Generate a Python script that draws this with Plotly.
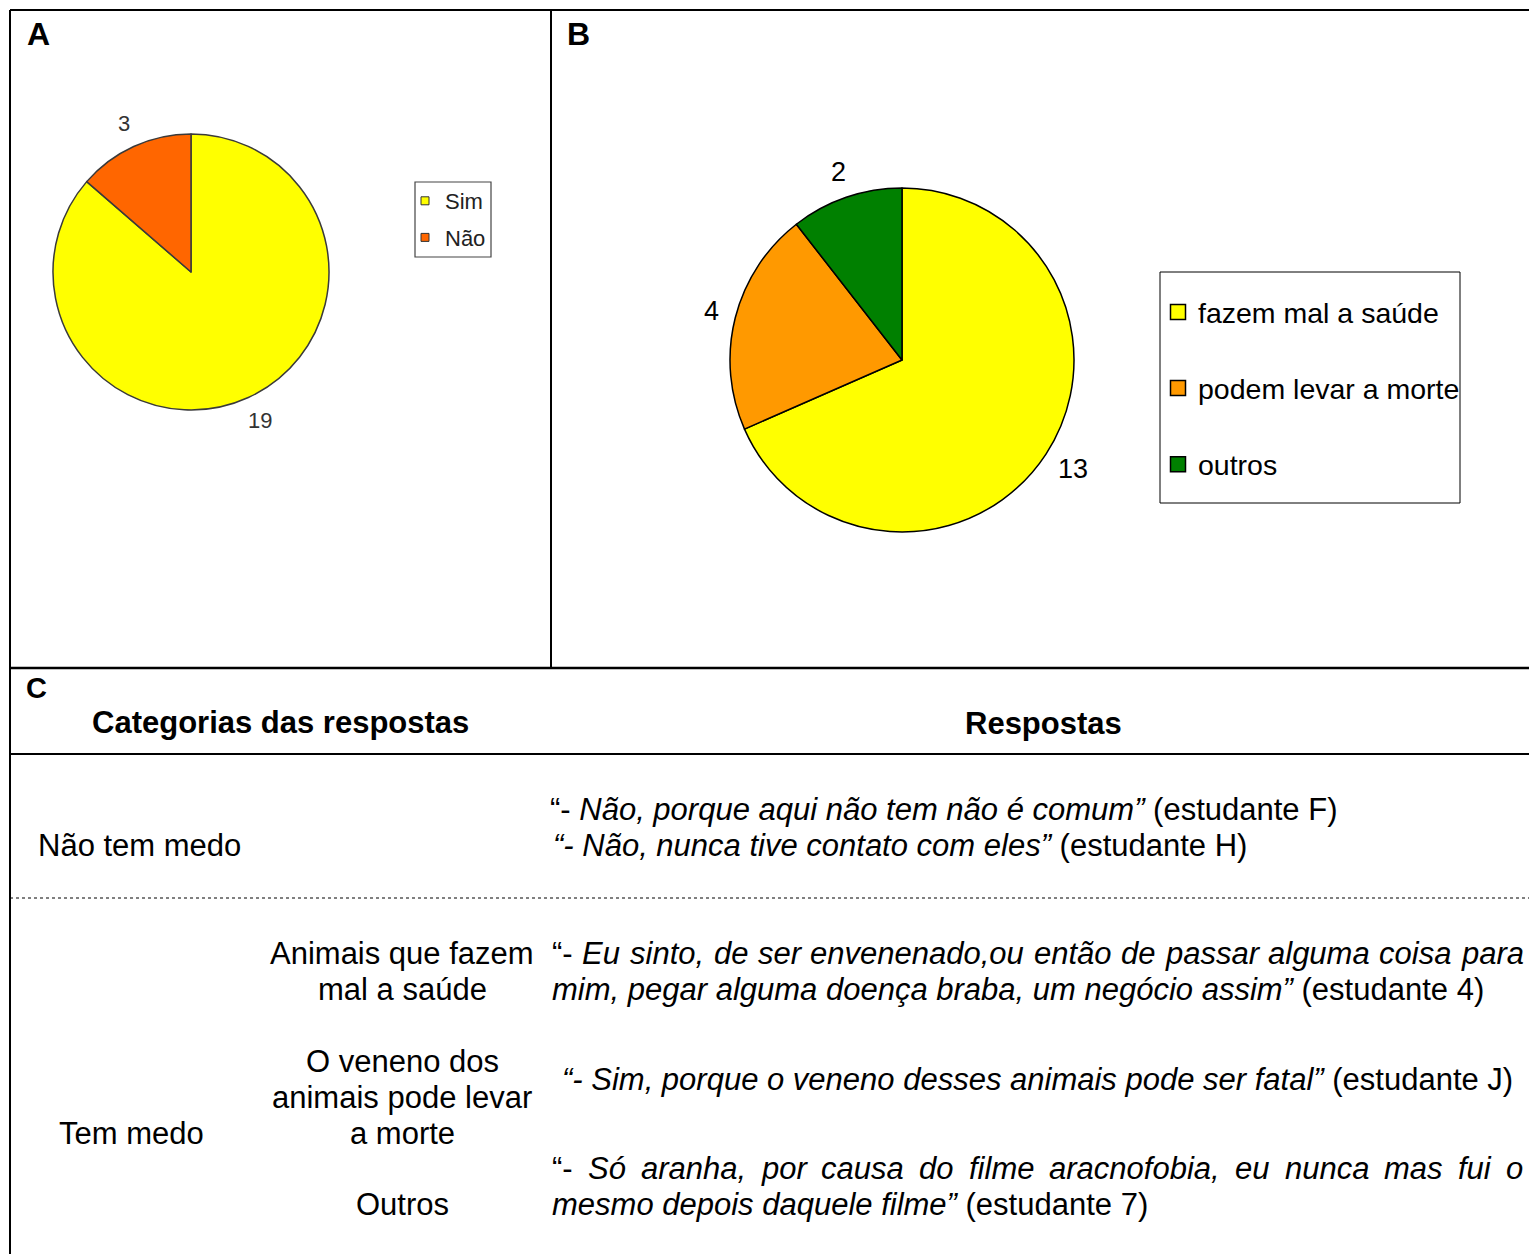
import math
import plotly.graph_objects as go

W, H = 1529, 1254
FONT = "Liberation Sans, Arial, sans-serif"

# ---- Panel A: tem medo? ----
a_labels = ["Sim", "Não"]
a_values = [19, 3]
a_colors = ["#FFFF00", "#FF6600"]

# ---- Panel B: por que tem medo ----
b_labels = ["fazem mal a saúde", "podem levar a morte", "outros"]
b_values = [13, 4, 2]
b_colors = ["#FFFF00", "#FF9900", "#008000"]

# ---- Panel C: table ----
header_left = "Categorias das respostas"
header_right = "Respostas"
cat_no = "Não tem medo"
cat_yes = "Tem medo"
sub_health = ["Animais que fazem", "mal a saúde"]
sub_death = ["O veneno dos", "animais pode levar", "a morte"]
sub_other = ["Outros"]
quote_f = "“- <i>Não, porque aqui não tem não é comum”</i> (estudante F)"
quote_h = "<i>“- Não, nunca tive contato com eles”</i> (estudante H)"
quote_4a = "“- Eu sinto, de ser envenenado,ou então de passar alguma coisa para"
quote_4b = "<i>mim, pegar alguma doença braba, um negócio assim”</i> (estudante 4)"
quote_j = "<i>“- Sim, porque o veneno desses animais pode ser fatal”</i> (estudante J)"
quote_7a = "“- Só aranha, por causa do filme aracnofobia, eu nunca mas fui o"
quote_7b = "<i>mesmo depois daquele filme”</i> (estudante 7)"

# Arial / Liberation Sans advance widths (per 1000 em)
ADV = {" ": 278, ",": 278, "-": 333, ".": 278, "“": 333, "”": 333, "(": 333, ")": 333,
       "E": 667, "S": 667, "a": 556, "b": 556, "c": 500, "d": 556, "e": 556, "f": 278,
       "g": 556, "h": 556, "i": 222, "l": 222, "m": 833, "n": 556, "o": 556, "p": 556,
       "r": 333, "s": 500, "t": 278, "u": 556, "v": 500, "ã": 556, "ó": 556}


def text_width(s, size):
    return sum(ADV.get(ch, 556) for ch in s) / 1000.0 * size


def px(x):
    return x / W


def py(y):
    return 1 - y / H


fig = go.Figure()

# hidden pixel-space axes for rules and table text
fig.update_layout(
    xaxis=dict(range=[0, W], visible=False, domain=[0, 1], fixedrange=True),
    yaxis=dict(range=[H, 0], visible=False, domain=[0, 1], fixedrange=True),
)

# Pie A
a_cx, a_cy, a_r = 191, 272, 138
fig.add_trace(go.Pie(
    labels=a_labels, values=a_values, sort=False, direction="clockwise", rotation=0,
    marker=dict(colors=a_colors, line=dict(color="#3a3a3a", width=1.5)),
    textinfo="none", hoverinfo="label+value", showlegend=False,
    domain=dict(x=[px(a_cx - a_r), px(a_cx + a_r)], y=[py(a_cy + a_r), py(a_cy - a_r)]),
))

# Pie B
b_cx, b_cy, b_r = 902, 360, 172
fig.add_trace(go.Pie(
    labels=b_labels, values=b_values, sort=False, direction="clockwise", rotation=0,
    marker=dict(colors=b_colors, line=dict(color="#000000", width=1.5)),
    textinfo="none", hoverinfo="label+value", showlegend=False,
    domain=dict(x=[px(b_cx - b_r), px(b_cx + b_r)], y=[py(b_cy + b_r), py(b_cy - b_r)]),
))

# legend entries
for lab, col in zip(a_labels, a_colors):
    fig.add_trace(go.Scatter(
        x=[None], y=[None], mode="markers", name=lab, legend="legend", legendgroup="a_" + lab,
        marker=dict(symbol="square", size=8, color=col, line=dict(color="#333333", width=1)),
    ))
for lab, col in zip(b_labels, b_colors):
    fig.add_trace(go.Scatter(
        x=[None], y=[None], mode="markers", name=lab, legend="legend2", legendgroup="b_" + lab,
        marker=dict(symbol="square", size=15, color=col, line=dict(color="#000000", width=1.5)),
    ))

annotations = []


def add_text(x, y, text, size, xanchor="left", bold=False, color="#000000"):
    if bold:
        text = "<b>" + text + "</b>"
    annotations.append(dict(
        x=x, y=y, xref="x", yref="y", text=text, showarrow=False, xanchor=xanchor,
        yanchor="middle", borderpad=0, font=dict(family=FONT, size=size, color=color),
    ))


def slice_labels(values, cx, cy, r, gap, size, color):
    total = float(sum(values))
    start = 0.0
    for v in values:
        mid = (start + v / 2.0) / total * 2 * math.pi
        ux, uy = math.sin(mid), -math.cos(mid)
        s = str(v)
        w = len(s) * 0.556 * size
        h = 0.716 * size
        x = cx + (r + gap) * ux + w / 2 * ux
        y = cy + (r + gap) * uy + h / 2 * uy
        add_text(x, y, s, size, xanchor="center", color=color)
        start += v


slice_labels(a_values, a_cx, a_cy, a_r, 17, 22, "#333333")
slice_labels(b_values, b_cx, b_cy, b_r, 17, 27, "#000000")


def justified(line, x0, x1, y, size):
    words = line.split(" ")
    widths = [text_width(w_, size) for w_ in words]
    gap = (x1 - x0 - sum(widths)) / (len(words) - 1)
    x = x0
    for i, (w_, wd) in enumerate(zip(words, widths)):
        t = w_ if i == 0 else "<i>" + w_ + "</i>"
        add_text(x, y, t, size)
        x += wd + gap


# panel letters
add_text(26, 34, "A", 32, bold=True)
add_text(566, 34, "B", 32, bold=True)
add_text(25, 688, "C", 29, bold=True)

TS = 31
add_text(280, 722, header_left, TS, xanchor="center", bold=True)
add_text(1043, 723, header_right, TS, xanchor="center", bold=True)

add_text(37, 845, cat_no, TS)
add_text(549, 809, quote_f, TS)
add_text(552, 845, quote_h, TS)

add_text(58, 1133, cat_yes, TS)
for i, s in enumerate(sub_health):
    add_text(402, 953 + 36 * i, s, TS, xanchor="center")
for i, s in enumerate(sub_death):
    add_text(402, 1061 + 36 * i, s, TS, xanchor="center")
for i, s in enumerate(sub_other):
    add_text(402, 1204 + 36 * i, s, TS, xanchor="center")

justified(quote_4a, 551, 1522, 953, TS)
add_text(551, 989, quote_4b, TS)
add_text(561, 1079, quote_j, TS)
justified(quote_7a, 551, 1522, 1168, TS)
add_text(551, 1204, quote_7b, TS)

# frame and rules
shapes = []


def rule(x0, y0, x1, y1, width=2, dash="solid", color="#000000"):
    shapes.append(dict(type="line", xref="x", yref="y", x0=x0, y0=y0, x1=x1, y1=y1,
                       line=dict(color=color, width=width, dash=dash)))


rule(10, 10, 10, H, 2)
rule(10, 10, W, 10, 2)
rule(551, 10, 551, 668, 2)
rule(10, 668, W, 668, 2.5)
rule(10, 754, W, 754, 2)
rule(10, 898, W, 898, 1, dash="dot")

# legend frames
shapes.append(dict(type="rect", xref="x", yref="y", x0=415, y0=182, x1=491, y1=257,
                   line=dict(color="#444444", width=1.2)))
shapes.append(dict(type="rect", xref="x", yref="y", x0=1160, y0=272, x1=1460, y1=503,
                   line=dict(color="#000000", width=1)))

fig.update_layout(
    width=W, height=H, margin=dict(l=0, r=0, t=0, b=0),
    paper_bgcolor="white", plot_bgcolor="white",
    showlegend=True,
    annotations=annotations, shapes=shapes,
    legend=dict(x=px(405), y=py(180), xanchor="left", yanchor="top",
                bgcolor="rgba(0,0,0,0)", borderwidth=0, tracegroupgap=5,
                font=dict(family=FONT, size=22, color="#222222"), itemclick=False),
    legend2=dict(x=px(1158), y=py(287), xanchor="left", yanchor="top",
                 bgcolor="rgba(0,0,0,0)", borderwidth=0, tracegroupgap=36,
                 font=dict(family=FONT, size=28.5, color="#000000"), itemclick=False),
)

fig.write_html("out.html")
